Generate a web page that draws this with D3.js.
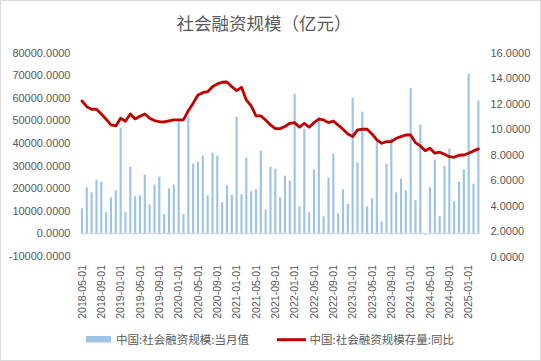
<!DOCTYPE html>
<html lang="zh">
<head>
<meta charset="UTF-8">
<title>社会融资规模</title>
<script src="https://d3js.org/d3.v7.min.js"></script>
<style>
body { margin: 0; background: #fff; }
svg { font-family: "Liberation Sans", Arial, sans-serif; }
.cjk { font-family: "Noto Sans CJK SC", sans-serif; }
</style>
</head>
<body>
<svg width="541" height="361"></svg>
<script>
// months (category axis)
const months = [
  "2018-05-01","2018-06-01","2018-07-01","2018-08-01","2018-09-01","2018-10-01","2018-11-01","2018-12-01",
  "2019-01-01","2019-02-01","2019-03-01","2019-04-01","2019-05-01","2019-06-01","2019-07-01","2019-08-01","2019-09-01","2019-10-01","2019-11-01","2019-12-01",
  "2020-01-01","2020-02-01","2020-03-01","2020-04-01","2020-05-01","2020-06-01","2020-07-01","2020-08-01","2020-09-01","2020-10-01","2020-11-01","2020-12-01",
  "2021-01-01","2021-02-01","2021-03-01","2021-04-01","2021-05-01","2021-06-01","2021-07-01","2021-08-01","2021-09-01","2021-10-01","2021-11-01","2021-12-01",
  "2022-01-01","2022-02-01","2022-03-01","2022-04-01","2022-05-01","2022-06-01","2022-07-01","2022-08-01","2022-09-01","2022-10-01","2022-11-01","2022-12-01",
  "2023-01-01","2023-02-01","2023-03-01","2023-04-01","2023-05-01","2023-06-01","2023-07-01","2023-08-01","2023-09-01","2023-10-01","2023-11-01","2023-12-01",
  "2024-01-01","2024-02-01","2024-03-01","2024-04-01","2024-05-01","2024-06-01","2024-07-01","2024-08-01","2024-09-01","2024-10-01","2024-11-01","2024-12-01",
  "2025-01-01","2025-02-01","2025-03-01"
];

// 中国:社会融资规模:当月值 (亿元)
const monthly = [
  11150, 20440, 18230, 23800, 22920, 9380, 16000, 19100,
  46800, 9380, 29560, 16460, 16900, 26000, 12900, 21600, 25130, 8500, 20000, 21600,
  50200, 8500, 51700, 30900, 31770, 34430, 16900, 35750, 34430, 13800, 21150, 17040,
  51700, 17340, 33540, 18670, 19560, 36640, 10530, 29560, 28670, 16000, 25570, 23360,
  61860, 12030, 46370, 9380, 28230, 51700, 7610, 24690, 35310, 8940, 19560, 13050,
  60090, 31330, 53900, 12030, 15560, 42170, 5400, 30900, 42170, 18230, 24250, 19100,
  64380, 14690, 48140, -650, 20440, 32650, 7610, 30000, 37520, 14250, 22920, 28230,
  70700, 22030, 58760
];

// 中国:社会融资规模存量:同比 (%)
const yoy = [
  12.21, 11.76, 11.56, 11.56, 11.19, 10.78, 10.33, 10.25,
  10.86, 10.62, 11.19, 10.80, 11.01, 11.19, 10.86, 10.67, 10.59, 10.56, 10.64, 10.72,
  10.72, 10.72, 11.45, 12.03, 12.68, 12.86, 12.94, 13.33, 13.55, 13.68, 13.70, 13.33,
  13.02, 13.28, 12.29, 11.82, 11.04, 11.04, 10.72, 10.33, 10.04, 10.04, 10.20, 10.46,
  10.51, 10.15, 10.46, 10.15, 10.51, 10.78, 10.72, 10.51, 10.64, 10.31, 9.99, 9.62,
  9.41, 9.94, 9.99, 9.99, 9.62, 9.15, 8.89, 9.02, 9.02, 9.28, 9.41, 9.54,
  9.54, 8.94, 8.68, 8.31, 8.50, 8.11, 8.19, 8.03, 7.84, 7.79, 7.95, 7.97,
  8.11, 8.29, 8.45
];

const leftTicks = [-10000, 0, 10000, 20000, 30000, 40000, 50000, 60000, 70000, 80000];
const rightTicks = [0, 2, 4, 6, 8, 10, 12, 14, 16];

const svg = d3.select("svg");
const textColor = "#595959";

// chart border
svg.append("rect")
   .attr("x", 0.5).attr("y", 0.5)
   .attr("width", 540).attr("height", 360)
   .attr("fill", "#fff")
   .attr("stroke", "#d9d9d9");

// title
svg.append("text")
   .attr("class", "cjk")
   .attr("x", 264).attr("y", 30)
   .attr("text-anchor", "middle")
   .attr("font-size", 17.5)
   .attr("fill", textColor)
   .text("社会融资规模（亿元）");

// scales
const x = d3.scaleBand()
            .domain(months)
            .range([80.9, 479.4])
            .paddingInner(0.56);

const yL = d3.scaleLinear().domain([-10000, 80000]).range([256, 52.7]);
const yR = d3.scaleLinear().domain([0, 16]).range([256.5, 52.7]);

// plain hyphen for negatives, like the original
const fmt = d3.formatLocale({decimal: ".", thousands: ",", grouping: [3], currency: ["", ""], minus: "-"}).format(".4f");

// left axis
svg.append("g")
   .attr("transform", "translate(70.5,0)")
   .call(d3.axisLeft(yL).tickValues(leftTicks).tickFormat(fmt).tickSize(0).tickPadding(0))
   .call(g => g.select(".domain").remove())
   .selectAll("text")
   .attr("font-size", 11)
   .attr("font-family", "Liberation Sans, Arial, sans-serif")
   .attr("fill", textColor);

// right axis
svg.append("g")
   .attr("transform", "translate(490.5,0)")
   .call(d3.axisRight(yR).tickValues(rightTicks).tickFormat(fmt).tickSize(0).tickPadding(0))
   .call(g => g.select(".domain").remove())
   .selectAll("text")
   .attr("font-size", 11)
   .attr("font-family", "Liberation Sans, Arial, sans-serif")
   .attr("fill", textColor);

// bars
svg.append("g")
   .selectAll("rect")
   .data(monthly)
   .join("rect")
   .attr("x", (d, i) => x(months[i]))
   .attr("y", d => yL(Math.max(0, d)))
   .attr("width", x.bandwidth())
   .attr("height", d => Math.abs(yL(d) - yL(0)))
   .attr("fill", "#9dc3e6");

// zero line
svg.append("line")
   .attr("x1", 80.9).attr("x2", 479.4)
   .attr("y1", yL(0)).attr("y2", yL(0))
   .attr("stroke", "#d9d9d9")
   .attr("stroke-width", 1.5);

// x labels every 4 months
const xTicks = months.filter((d, i) => i % 4 === 0);
svg.append("g")
   .selectAll("text")
   .data(xTicks)
   .join("text")
   .attr("transform", d => `translate(${x(d) + x.bandwidth() / 2},265) rotate(-90)`)
   .attr("text-anchor", "end")
   .attr("dy", "0.35em")
   .attr("font-size", 10.5)
   .attr("fill", textColor)
   .text(d => d);

// yoy line
const line = d3.line()
   .x((d, i) => x(months[i]) + x.bandwidth() / 2)
   .y(d => yR(d));

svg.append("path")
   .datum(yoy)
   .attr("d", line)
   .attr("fill", "none")
   .attr("stroke", "#c00000")
   .attr("stroke-width", 2.8)
   .attr("stroke-linejoin", "round")
   .attr("stroke-linecap", "round");

// legend
const legend = svg.append("g").attr("class", "cjk");
legend.append("rect")
   .attr("x", 86).attr("y", 336)
   .attr("width", 25).attr("height", 6.5)
   .attr("fill", "#9dc3e6");
legend.append("text")
   .attr("x", 116).attr("y", 343.5)
   .attr("font-size", 11.5)
   .attr("fill", textColor)
   .text("中国:社会融资规模:当月值");
legend.append("line")
   .attr("x1", 277).attr("x2", 306)
   .attr("y1", 339.7).attr("y2", 339.7)
   .attr("stroke", "#c00000")
   .attr("stroke-width", 3);
legend.append("text")
   .attr("x", 309.5).attr("y", 343.5)
   .attr("font-size", 11.5)
   .attr("fill", textColor)
   .text("中国:社会融资规模存量:同比");
</script>
</body>
</html>
